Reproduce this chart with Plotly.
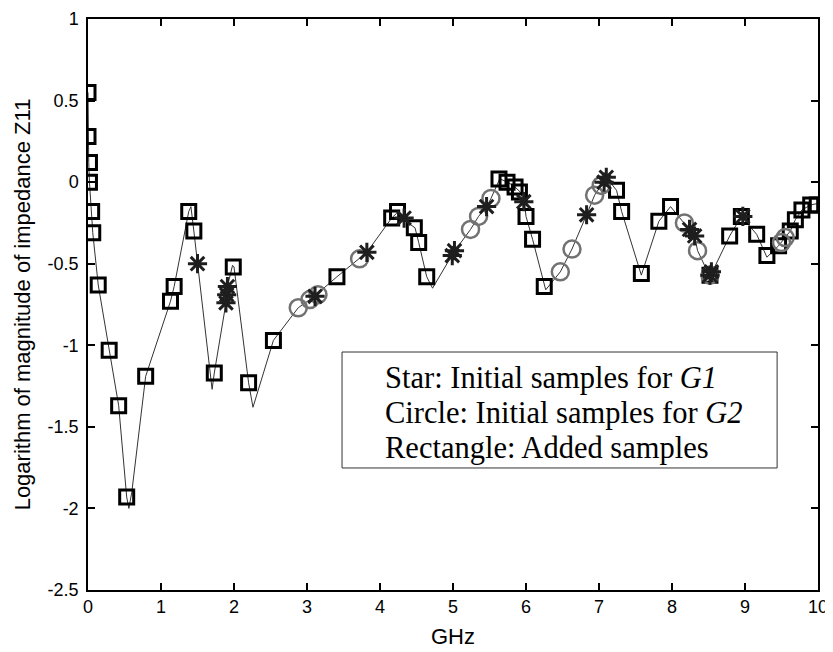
import plotly.graph_objects as go

# Underlying response curve (GHz, log magnitude)
curve_x = [0.0, 0.0, 0.01, 0.02, 0.05, 0.065, 0.14, 0.29, 0.42, 0.53, 0.56, 0.60, 0.79, 1.13, 1.18, 1.38, 1.41,
           1.45, 1.50, 1.70, 1.73, 1.89, 1.91, 1.98, 2.00, 2.20, 2.26, 2.54, 2.88, 3.10, 3.41, 3.72, 3.82,
           4.16, 4.23, 4.32, 4.48, 4.53, 4.64, 4.72, 5.01, 5.24, 5.35, 5.46, 5.52, 5.64, 5.75, 5.85, 5.92,
           5.98, 6.00, 6.09, 6.25, 6.27, 6.47, 6.63, 6.83, 6.94, 7.03, 7.10, 7.24, 7.31, 7.58, 7.82, 7.98,
           8.17, 8.31, 8.35, 8.52, 8.79, 8.95, 9.16, 9.30, 9.46, 9.55, 9.62, 9.69, 9.78, 9.90, 10.0]
curve_y = [0.55, 0.28, 0.12, 0.0, -0.18, -0.31, -0.63, -1.03, -1.37, -1.93, -2.0, -1.9, -1.19, -0.73, -0.64, -0.18, -0.15,
           -0.30, -0.50, -1.27, -1.17, -0.74, -0.64, -0.51, -0.52, -1.23, -1.38, -0.97, -0.77, -0.70, -0.58, -0.47, -0.43,
           -0.22, -0.19, -0.23, -0.28, -0.37, -0.58, -0.65, -0.43, -0.29, -0.21, -0.15, -0.10, 0.02, 0.0, -0.03, -0.06,
           -0.13, -0.21, -0.35, -0.64, -0.66, -0.55, -0.41, -0.20, -0.08, -0.02, 0.03, -0.05, -0.18, -0.57, -0.24, -0.15,
           -0.25, -0.33, -0.42, -0.58, -0.33, -0.21, -0.32, -0.46, -0.39, -0.34, -0.30, -0.23, -0.17, -0.14, -0.13]

# Rectangle: added samples
rect_x = [0.0, 0.0, 0.02, 0.02, 0.05, 0.065, 0.14, 0.29, 0.42, 0.53, 0.79, 1.13, 1.18, 1.38, 1.45, 1.73, 1.99,
          2.20, 2.54, 3.41, 4.16, 4.24, 4.47, 4.53, 4.64, 5.63, 5.74, 5.85, 5.91, 6.00, 6.09, 6.25, 7.24, 7.31,
          7.58, 7.82, 7.98, 8.52, 8.79, 8.95, 9.16, 9.30, 9.46, 9.62, 9.69, 9.78, 9.90, 9.99]
rect_y = [0.55, 0.28, 0.12, 0.0, -0.18, -0.31, -0.63, -1.03, -1.37, -1.93, -1.19, -0.73, -0.64, -0.18, -0.30, -1.17, -0.52,
          -1.23, -0.97, -0.58, -0.22, -0.18, -0.28, -0.37, -0.58, 0.02, 0.0, -0.03, -0.06, -0.21, -0.35, -0.64, -0.05, -0.18,
          -0.56, -0.24, -0.15, -0.57, -0.33, -0.21, -0.32, -0.45, -0.39, -0.30, -0.23, -0.17, -0.14, -0.14]

# Star: initial samples for G1
star_x = [1.50, 1.89, 1.90, 1.91, 3.11, 3.82, 4.33, 4.99, 5.02, 5.46, 5.97, 6.83, 7.07, 7.10, 8.24, 8.31, 8.52, 8.54, 8.97]
star_y = [-0.50, -0.74, -0.69, -0.64, -0.70, -0.43, -0.22, -0.45, -0.42, -0.15, -0.12, -0.20, 0.0, 0.03, -0.29, -0.33, -0.57, -0.55, -0.21]

# Circle: initial samples for G2
circ_x = [2.88, 3.04, 3.15, 3.72, 5.24, 5.35, 5.52, 6.47, 6.63, 6.94, 7.03, 8.17, 8.35, 8.52, 9.50, 9.55]
circ_y = [-0.77, -0.72, -0.69, -0.47, -0.29, -0.21, -0.10, -0.55, -0.41, -0.08, -0.02, -0.25, -0.42, -0.57, -0.37, -0.34]

x_ticks = [0, 1, 2, 3, 4, 5, 6, 7, 8, 9, 10]
x_tick_text = ["0", "1", "2", "3", "4", "5", "6", "7", "8", "9", "10"]
y_ticks = [-2.5, -2, -1.5, -1, -0.5, 0, 0.5, 1]
y_tick_text = ["-2.5", "-2", "-1.5", "-1", "-0.5", "0", "0.5", "1"]

legend_lines = ["Star: Initial samples for <i>G1</i>",
                "Circle: Initial samples for <i>G2</i>",
                "Rectangle: Added samples"]

fig = go.Figure()
fig.add_trace(go.Scatter(x=curve_x, y=curve_y, mode="lines",
                         line=dict(color="#333333", width=1), showlegend=False))
fig.add_trace(go.Scatter(x=rect_x, y=rect_y, mode="markers",
                         marker=dict(symbol="square-open", size=14, color="black",
                                     line=dict(color="black", width=3)), showlegend=False))
fig.add_trace(go.Scatter(x=circ_x, y=circ_y, mode="markers",
                         marker=dict(symbol="circle-open", size=17, color="#727272",
                                     line=dict(color="#727272", width=2.5)), showlegend=False))
fig.add_trace(go.Scatter(x=star_x, y=star_y, mode="markers",
                         marker=dict(symbol="asterisk-open", size=16, color="#1e1e1e",
                                     line=dict(color="#1e1e1e", width=3)), showlegend=False))

tick_font = dict(family="Liberation Sans, Arial, sans-serif", size=18, color="black")
title_font = dict(family="Liberation Sans, Arial, sans-serif", size=22, color="black")

# the page body adds an 8px offset, so the figure is sized to fill the remaining window
fig.update_layout(
    width=825, height=644,
    margin=dict(l=80, r=15, t=11, b=62),
    paper_bgcolor="white", plot_bgcolor="white",
    font=tick_font,
    xaxis=dict(range=[0, 10], tickvals=x_ticks, ticktext=x_tick_text, ticks="inside", ticklen=7,
               tickwidth=1.5, tickcolor="black", showline=True, linecolor="black", linewidth=1.5,
               mirror="ticks", showgrid=False, zeroline=False, tickfont=tick_font, automargin=False,
               ticklabeloverflow="allow",
               title=dict(text="GHz", font=title_font, standoff=12)),
    yaxis=dict(range=[-2.5, 1], tickvals=y_ticks, ticktext=y_tick_text, ticks="inside", ticklen=7,
               tickwidth=1.5, tickcolor="black", showline=True, linecolor="black", linewidth=1.5,
               mirror="ticks", showgrid=False, zeroline=False, tickfont=tick_font, automargin=False,
               ticklabelstandoff=4, ticklabeloverflow="allow",
               title=dict(text="Logarithm of magnitude of impedance Z11", font=title_font, standoff=11)),
)

fig.add_shape(type="rect", xref="paper", yref="paper", x0=0.348, x1=0.944, y0=0.2137, y1=0.4168,
              line=dict(color="#333333", width=1), fillcolor="white", layer="above")

line_pos = [0.3713, 0.310, 0.2487]
for txt, yp in zip(legend_lines, line_pos):
    fig.add_annotation(text=txt, xref="paper", yref="paper", x=0.404, y=yp, xanchor="left",
                       yanchor="middle", showarrow=False,
                       font=dict(family="Liberation Serif, Times New Roman, serif", size=30.5, color="black"))

fig.write_html("out.html")
